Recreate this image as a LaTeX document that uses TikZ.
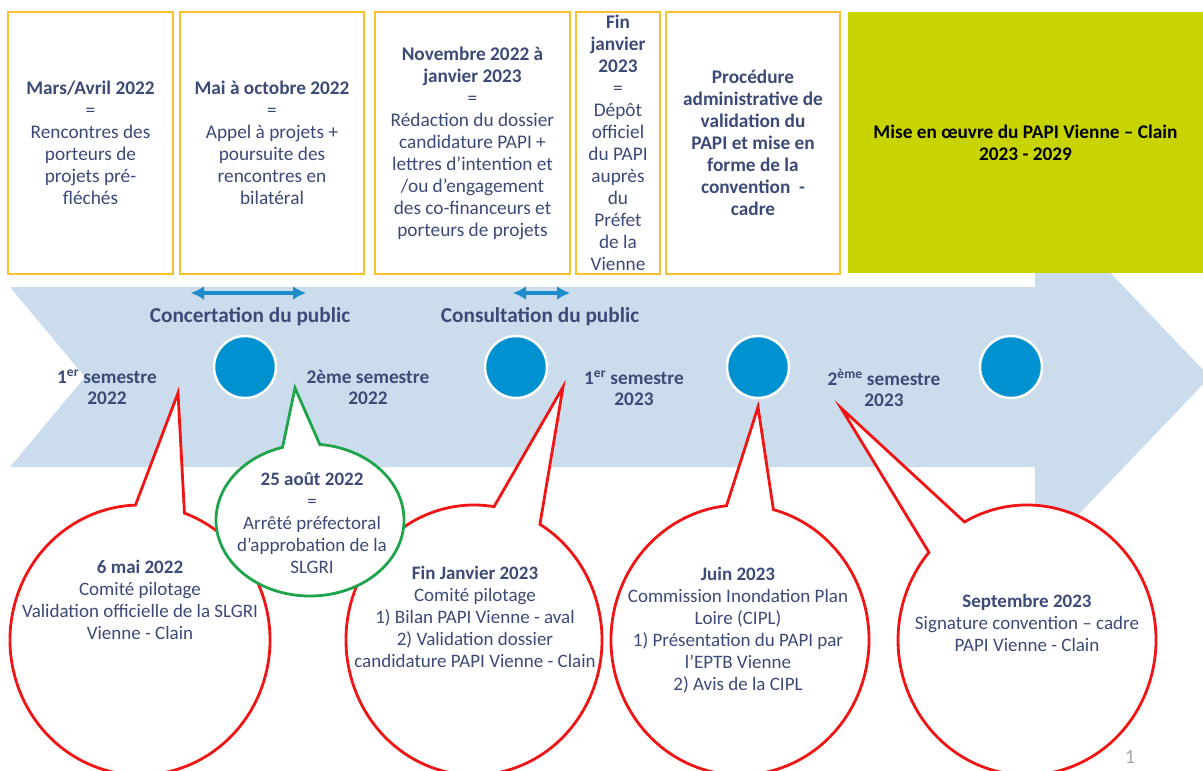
\documentclass[tikz,border=0pt]{standalone}
\usepackage{fontspec}
\setmainfont{Carlito}
\usetikzlibrary{arrows.meta}
\definecolor{txt}{RGB}{60,74,120}
\definecolor{boxc}{RGB}{250,192,45}
\definecolor{lime}{RGB}{200,212,0}
\definecolor{arrowc}{RGB}{203,220,236}
\definecolor{circc}{RGB}{0,145,208}
\definecolor{darrc}{RGB}{30,140,200}
\definecolor{redc}{RGB}{240,20,20}
\definecolor{greenc}{RGB}{30,165,75}
\tikzset{
  tbox/.style={draw=boxc, line width=1.5pt, fill=white, inner sep=0pt, text=txt, align=center, font=\fontsize{19.3}{22}\selectfont},
  gbox/.style={fill=lime, inner sep=0pt, text=black, align=center, font=\bfseries\fontsize{19.3}{22}\selectfont},
  dot/.style={circle, fill=circc, draw=white, line width=2.5pt, minimum size=62pt, inner sep=0pt},
  darr/.style={draw=darrc, line width=3.5pt, {Latex[length=13pt,width=14pt]}-{Latex[length=13pt,width=14pt]}},
  semlab/.style={text=txt, align=center, font=\bfseries\fontsize{19.3}{21}\selectfont, inner sep=0pt},
  publab/.style={text=txt, font=\bfseries\fontsize{21.3}{22}\selectfont, inner sep=0pt},
  redb/.style={draw=redc, line width=2.8pt, fill=white, line join=miter},
  greenb/.style={draw=greenc, line width=2.8pt, fill=white, line join=miter},
  btxt/.style={text=txt, align=center, font=\fontsize{19}{22}\selectfont, inner sep=0pt}
}
\begin{document}
\begin{tikzpicture}[x=1pt,y=-1pt]
\useasboundingbox (0,0) rectangle (1203,771);
\clip (0,0) rectangle (1203,771);
% big arrow
\fill[arrowc] (10,287) -- (1035,287) -- (1035,194) -- (1210,377) -- (1035,560) -- (1035,467) -- (10,467) -- (85,377) -- cycle;
% top boxes
\node[tbox, minimum width=165pt, minimum height=262pt] (b1) at (90.5,143) {\textbf{Mars/Avril 2022}\\=\\Rencontres des\\porteurs de\\projets pré-\\fléchés};
\node[tbox, minimum width=184pt, minimum height=262pt] (b2) at (272,143) {\textbf{Mai à octobre 2022}\\=\\Appel à projets +\\poursuite des\\rencontres en\\bilatéral};
\node[tbox, minimum width=195pt, minimum height=262pt] (b3) at (472.5,143) {\textbf{Novembre 2022 à}\\\textbf{janvier 2023}\\=\\Rédaction du dossier\\candidature PAPI +\\lettres d’intention et\\/ou d’engagement\\des co-financeurs et\\porteurs de projets};
\node[tbox, minimum width=84pt, minimum height=262pt] (b4) at (618,143) {\textbf{Fin}\\\textbf{janvier}\\\textbf{2023}\\=\\Dépôt\\officiel\\du PAPI\\auprès\\du\\Préfet\\de la\\Vienne};
\node[tbox, minimum width=174pt, minimum height=262pt] (b5) at (753,143) {\textbf{Procédure}\\\textbf{administrative de}\\\textbf{validation du}\\\textbf{PAPI et mise en}\\\textbf{forme de la}\\\textbf{convention\ \ -}\\\textbf{cadre}};
\node[gbox, minimum width=355pt, minimum height=261pt] (b6) at (1025.5,142.5) {Mise en œuvre du PAPI Vienne – Clain\\2023 - 2029};
% double arrows
\coordinate (a1l) at (191,293);
\coordinate (a1r) at (306,293);
\coordinate (a2l) at (513,293);
\coordinate (a2r) at (570,293);
\draw[darr] (a1l) -- (a1r);
\draw[darr] (a2l) -- (a2r);
\node[publab] (conc) at (250,317) {Concertation du public};
\node[publab] (cons) at (540,317) {Consultation du public};
% dots
\node[dot] (d1) at (245,367) {};
\node[dot] (d2) at (516,367) {};
\node[dot] (d3) at (758,367) {};
\node[dot] (d4) at (1011,367) {};
% semester labels
\node[semlab] (s1) at (107,387) {1\textsuperscript{er} semestre\\2022};
\node[semlab] (s2) at (368,387) {2ème semestre\\2022};
\node[semlab] (s3) at (634,388) {1\textsuperscript{er} semestre\\2023};
\node[semlab] (s4) at (884,388) {2\textsuperscript{ème} semestre\\2023};
% bubbles
\coordinate (c1) at (140,640);
\coordinate (t1) at (178,393);
\draw[redb] (t1) -- ([shift={(290:130 and 135)}]c1) arc[start angle=290, end angle=628, x radius=130, y radius=135] -- cycle;
\coordinate (c3) at (474,640);
\coordinate (t3) at (563,387);
\draw[redb] (t3) -- ([shift={(301:128 and 135)}]c3) arc[start angle=301, end angle=639, x radius=128, y radius=135] -- cycle;
\coordinate (c4) at (740,640);
\coordinate (t4) at (758,407);
\draw[redb] (t4) -- ([shift={(285:129 and 135)}]c4) arc[start angle=285, end angle=624, x radius=129, y radius=135] -- cycle;
\coordinate (c5) at (1027,640);
\coordinate (t5) at (841,408);
\draw[redb] (t5) -- ([shift={(241:129 and 135)}]c5) arc[start angle=241, end angle=580.5, x radius=129, y radius=135] -- cycle;
\coordinate (c2) at (310,520);
\coordinate (t2) at (295,388);
\draw[greenb] (t2) -- ([shift={(276:94 and 76)}]c2) arc[start angle=276, end angle=613, x radius=94, y radius=76] -- cycle;
% bubble texts
\node[btxt] (n1) at (140,600) {\textbf{6 mai 2022}\\Comité pilotage\\Validation officielle de la SLGRI\\Vienne - Clain};
\node[btxt] (n2) at (312,523) {\textbf{25 août 2022}\\=\\Arrêté préfectoral\\d’approbation de la\\SLGRI};
\node[btxt] (n3) at (475,617) {\textbf{Fin Janvier 2023}\\Comité pilotage\\1) Bilan PAPI Vienne - aval\\2) Validation dossier\\candidature PAPI Vienne - Clain};
\node[btxt] (n4) at (738,630) {\textbf{Juin 2023}\\Commission Inondation Plan\\Loire (CIPL)\\1) Présentation du PAPI par\\l’EPTB Vienne\\2) Avis de la CIPL};
\node[btxt] (n5) at (1027,623) {\textbf{Septembre 2023}\\Signature convention – cadre\\PAPI Vienne - Clain};
% page number
\node[text=black!35, font=\fontsize{20}{20}\selectfont, inner sep=0pt] (pg) at (1130,757) {1};
\end{tikzpicture}
\end{document}
